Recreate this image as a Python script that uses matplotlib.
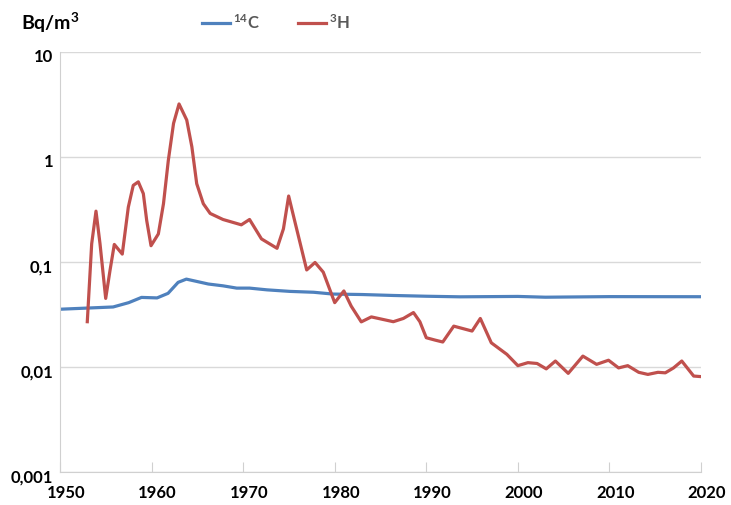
import matplotlib.pyplot as plt
import matplotlib.transforms as mtransforms

plt.rcParams['font.family'] = ['Lato', 'DejaVu Sans']
plt.rcParams['mathtext.fontset'] = 'custom'
plt.rcParams['mathtext.rm'] = 'Lato'
plt.rcParams['mathtext.bf'] = 'Lato:bold'

# C-14 (Bq/m3)
years_c14 = [1950, 1955.8, 1957.5, 1958.9, 1960.6, 1961.8, 1962.9, 1963.8,
             1966.2, 1967.8, 1969.3, 1970.7, 1972.6, 1975.1, 1977.7, 1979.8, 1983,
             1986.4, 1990, 1993.7, 2000, 2003, 2010, 2020]
c14 = [0.0355, 0.0373, 0.041, 0.046, 0.0455, 0.0503, 0.064, 0.0687,
       0.0617, 0.0593, 0.0564, 0.0564, 0.0543, 0.0525, 0.0515, 0.0495, 0.049,
       0.048, 0.0472, 0.0466, 0.0470, 0.0462, 0.0468, 0.0467]

# H-3 (Bq/m3)
years_h3 = [1952.98, 1953.46, 1953.93, 1954.37, 1954.99, 1955.46, 1955.93, 1956.8,
            1957.46, 1958.0, 1958.55, 1959.1, 1959.47, 1959.94, 1960.74, 1961.3,
            1961.83, 1962.4, 1963.0, 1963.84, 1964.4, 1964.93, 1965.65, 1966.4,
            1967.8, 1969.8, 1970.7, 1972.0, 1973.7, 1974.4, 1974.97, 1975.66,
            1976.94, 1977.85, 1978.75, 1980.0, 1981.0, 1981.8, 1982.9, 1984.0,
            1986.4, 1987.5, 1988.6, 1989.3, 1990.0, 1991.0, 1991.8, 1993.0,
            1995.0, 1995.9, 1997.1, 1998.8, 2000.0, 2001.1, 2002.1, 2003.1,
            2004.1, 2005.5, 2007.1, 2008.6, 2009.9, 2011.0, 2012.0, 2013.2,
            2014.2, 2015.3, 2016.1, 2017.0, 2017.9, 2019.2, 2020.0]
h3 = [0.027, 0.149, 0.305, 0.149, 0.045, 0.083, 0.147, 0.119,
      0.333, 0.537, 0.58, 0.448, 0.248, 0.143, 0.185, 0.359,
      0.93, 2.09, 3.2, 2.25, 1.25, 0.557, 0.359, 0.29,
      0.254, 0.226, 0.254, 0.166, 0.135, 0.207, 0.425, 0.24,
      0.084, 0.099, 0.080, 0.041, 0.053, 0.038, 0.0269, 0.030,
      0.027, 0.029, 0.033, 0.027, 0.019, 0.018, 0.0173, 0.0245,
      0.022, 0.029, 0.017, 0.0132, 0.0103, 0.011, 0.0108, 0.0096,
      0.0114, 0.0087, 0.0127, 0.0106, 0.0116, 0.0098, 0.0103, 0.0089,
      0.0085, 0.0089, 0.0088, 0.0098, 0.0114, 0.0082, 0.0081]

yticks = [0.001, 0.01, 0.1, 1, 10]
ytick_labels = ['0,001', '0,01', '0,1', '1', '10']
xticks = [1950, 1960, 1970, 1980, 1990, 2000, 2010, 2020]

fig = plt.figure(figsize=(7.31, 5.06), dpi=100)
ax = fig.add_axes([60 / 731, 1 - 473 / 506, 641 / 731, 420 / 506])

ax.plot(years_c14, c14, color='#4F81BD', lw=2.3, label=r'$\mathbf{{}^{14}C}$',
        solid_joinstyle='round')
ax.plot(years_h3, h3, color='#C0504D', lw=2.3, label=r'$\mathbf{{}^{3}H}$',
        solid_joinstyle='round')

ax.set_yscale('log')
ax.set_xlim(1950, 2020)
ax.set_ylim(0.001, 10)
ax.set_yticks(yticks)
ax.set_yticklabels(ytick_labels)
ax.minorticks_off()
ax.set_xticks(xticks)

ax.grid(axis='y', color='#D9D9D9', lw=1)
ax.set_axisbelow(True)
for s in ['top', 'right']:
    ax.spines[s].set_visible(False)
for s in ['left', 'bottom']:
    ax.spines[s].set_color('#D0D0D0')

ax.tick_params(axis='x', direction='in', length=7, color='#D0D0D0', pad=9,
               labelsize=12)
ax.tick_params(axis='y', length=0, pad=5, labelsize=12)
for lab in ax.get_xticklabels() + ax.get_yticklabels():
    lab.set_fontweight('bold')

dx = mtransforms.ScaledTranslation(6 / 100, 0, fig.dpi_scale_trans)
for lab in ax.get_xticklabels():
    lab.set_transform(lab.get_transform() + dx)
dy = mtransforms.ScaledTranslation(0, -3 / 100, fig.dpi_scale_trans)
for lab in ax.get_yticklabels():
    lab.set_transform(lab.get_transform() + dy)

fig.text(21 / 731, 1 - 23 / 506, r'$\mathbf{Bq/m^{\mathbf{3}}}$', fontsize=14,
         ha='left', va='center')

leg = fig.legend(loc='center', bbox_to_anchor=(276 / 731, 1 - 23 / 506), ncol=2,
                 frameon=False, fontsize=12, handlelength=1.65, handletextpad=0.2,
                 columnspacing=2.3)
for t in leg.get_texts():
    t.set_color('#595959')

fig.savefig('out.png', dpi=100)
